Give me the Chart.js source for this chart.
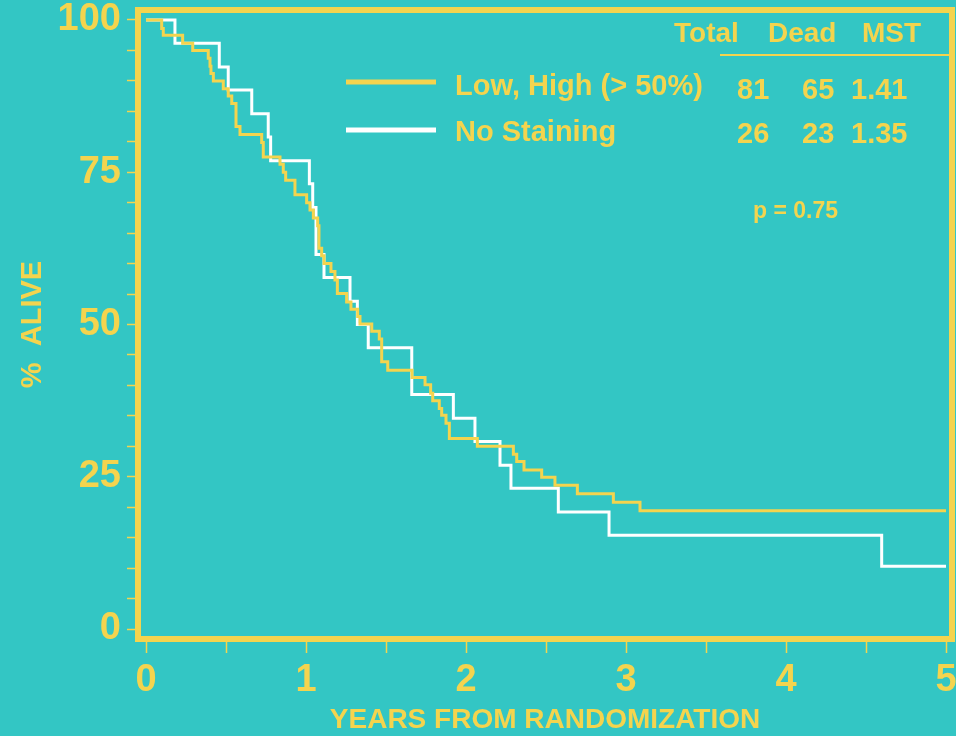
<!DOCTYPE html>
<html>
<head>
<meta charset="utf-8">
<script src="https://cdn.jsdelivr.net/npm/chart.js@4"></script>
<style>
  html, body { margin: 0; padding: 0; background: #33C6C4; }
  canvas { display: block; }
</style>
</head>
<body>
<canvas id="chart" width="956" height="736"></canvas>
<script>
const teal = "#33C6C4"
const yellow = "#F4D44E"
const fontFam = '"Liberation Sans", Arial, sans-serif'

// Kaplan-Meier curves (years, % alive)
const lowHighYears = [0, 0.098, 0.108, 0.229, 0.292, 0.389, 0.400, 0.406, 0.421, 0.483, 0.514, 0.536, 0.5625, 0.5875, 0.723, 0.733, 0.8375, 0.858, 0.873, 0.931, 1.004, 1.025, 1.046, 1.073, 1.081, 1.098, 1.1125, 1.156, 1.181, 1.196, 1.254, 1.281, 1.323, 1.3375, 1.411, 1.458, 1.473, 1.511, 1.6625, 1.744, 1.779, 1.792, 1.833, 1.848, 1.875, 1.896, 2.071, 2.296, 2.317, 2.3625, 2.473, 2.556, 2.696, 2.921, 3.0875, 5.0]
const lowHighAlive = [100, 98.6, 97.5, 96.2, 95.0, 93.7, 92.4, 91.2, 90.0, 88.7, 87.5, 86.3, 82.5, 81.2, 79.9, 77.5, 76.3, 75.0, 73.7, 71.3, 70.0, 68.8, 67.5, 66.2, 62.5, 61.3, 60.0, 58.7, 57.3, 55.1, 53.7, 52.5, 51.3, 50.1, 48.9, 47.6, 43.9, 42.5, 41.3, 40.1, 38.7, 37.5, 36.2, 35.1, 33.8, 31.3, 30.0, 28.7, 27.5, 26.1, 24.9, 23.6, 22.2, 20.8, 19.4, 19.4]

const noStainYears = [0, 0.181, 0.458, 0.514, 0.661, 0.764, 0.779, 1.021, 1.042, 1.0625, 1.1125, 1.275, 1.321, 1.389, 1.661, 1.921, 2.056, 2.2125, 2.281, 2.577, 2.894, 4.598, 5.0]
const noStainAlive = [100, 96.2, 92.3, 88.5, 84.6, 80.8, 76.9, 73.1, 69.2, 61.5, 57.7, 53.8, 50.0, 46.2, 38.5, 34.6, 30.8, 26.9, 23.1, 19.2, 15.4, 10.3, 10.3]

const seriesNames = ["Low, High (> 50%)", "No Staining"]
const tableHead = ["Total", "Dead", "MST"]
const tableLowHigh = ["81", "65", "1.41"]
const tableNoStain = ["26", "23", "1.35"]
const pText = "p = 0.75"

// axis ticks
const xTickVals = [0, 0.5, 1, 1.5, 2, 2.5, 3, 3.5, 4, 4.5, 5]
const xTickLabels = [0, 1, 2, 3, 4, 5]
const yTickVals = [0, 5, 10, 15, 20, 25, 30, 35, 40, 45, 50, 55, 60, 65, 70, 75, 80, 85, 90, 95, 100]
const yTickLabels = [0, 25, 50, 75, 100]

const toPoints = (xs, ys) => xs.map((x, i) => ({x: x, y: ys[i]}))

const frameAndNotes = {
    id: "frameAndNotes",
    afterDatasetsDraw(chart) {
        const ctx = chart.ctx
        const a = chart.chartArea
        ctx.save()
        ctx.strokeStyle = yellow
        ctx.lineWidth = 6
        ctx.strokeRect(a.left, a.top, a.right - a.left, a.bottom - a.top)

        // legend
        ctx.lineWidth = 5
        ctx.beginPath(); ctx.moveTo(346, 82); ctx.lineTo(436, 82); ctx.stroke()
        ctx.strokeStyle = "#FFFFFF"
        ctx.beginPath(); ctx.moveTo(346, 130); ctx.lineTo(436, 130); ctx.stroke()

        ctx.fillStyle = yellow
        ctx.textBaseline = "alphabetic"
        ctx.textAlign = "left"
        ctx.font = "bold 29px " + fontFam
        ctx.fillText(seriesNames[0], 455, 95)
        ctx.fillText(seriesNames[1], 455, 141)

        // table
        ctx.font = "bold 28px " + fontFam
        const headX = [674, 768, 862]
        tableHead.forEach((t, i) => ctx.fillText(t, headX[i], 42))
        ctx.strokeStyle = yellow
        ctx.lineWidth = 2
        ctx.beginPath(); ctx.moveTo(720, 55); ctx.lineTo(950, 55); ctx.stroke()

        ctx.font = "bold 29px " + fontFam
        const colX = [737, 802, 851]
        tableLowHigh.forEach((t, i) => ctx.fillText(t, colX[i], 99))
        tableNoStain.forEach((t, i) => ctx.fillText(t, colX[i], 143))

        ctx.font = "bold 23px " + fontFam
        ctx.fillText(pText, 753, 218)
        ctx.restore()
    }
}

const chart = new Chart("chart", {
    type: "line",
    data: {
        datasets: [{
            label: seriesNames[0],
            data: toPoints(lowHighYears, lowHighAlive),
            borderColor: yellow,
            borderWidth: 3,
            stepped: true,
            pointRadius: 0,
            fill: false
        }, {
            label: seriesNames[1],
            data: toPoints(noStainYears, noStainAlive),
            borderColor: "#FFFFFF",
            borderWidth: 3,
            stepped: true,
            pointRadius: 0,
            fill: false
        }]
    },
    options: {
        responsive: false,
        animation: false,
        events: [],
        layout: {padding: {left: 0, top: 10, right: 4, bottom: 0}},
        plugins: {
            legend: {display: false},
            tooltip: {enabled: false}
        },
        scales: {
            x: {
                type: "linear",
                min: -0.05,
                max: 5.0375,
                afterBuildTicks: axis => { axis.ticks = xTickVals.map(v => ({value: v})) },
                afterFit: scale => { scale.height = 97; scale.paddingLeft = 0; scale.paddingRight = 0 },
                grid: {drawOnChartArea: false, drawTicks: true, tickLength: 14, tickColor: yellow, tickWidth: 1.5},
                border: {display: false},
                ticks: {
                    color: yellow,
                    autoSkip: false,
                    maxRotation: 0,
                    padding: 5,
                    font: {family: fontFam, size: 38, weight: "bold"},
                    callback: v => xTickLabels.includes(v) ? String(v) : ""
                },
                title: {
                    display: true,
                    text: "YEARS FROM RANDOMIZATION",
                    color: yellow,
                    padding: {top: 0, bottom: 0},
                    font: {family: fontFam, size: 28, weight: "bold", lineHeight: 1.1}
                }
            },
            y: {
                min: -1.64,
                max: 101.64,
                afterBuildTicks: axis => { axis.ticks = yTickVals.map(v => ({value: v})) },
                afterFit: scale => { scale.width = 138; scale.paddingTop = 0; scale.paddingBottom = 0 },
                grid: {drawOnChartArea: false, drawTicks: true, tickLength: 11, tickColor: yellow, tickWidth: 1.5},
                border: {display: false},
                ticks: {
                    color: yellow,
                    autoSkip: false,
                    padding: 6,
                    font: {family: fontFam, size: 38, weight: "bold"},
                    callback: v => yTickLabels.includes(v) ? String(v) : ""
                },
                title: {
                    display: true,
                    text: "%  ALIVE",
                    color: yellow,
                    padding: {top: 17, bottom: 0},
                    font: {family: fontFam, size: 29, weight: "bold", lineHeight: 1.1}
                }
            }
        }
    },
    plugins: [frameAndNotes]
})
</script>
</body>
</html>
